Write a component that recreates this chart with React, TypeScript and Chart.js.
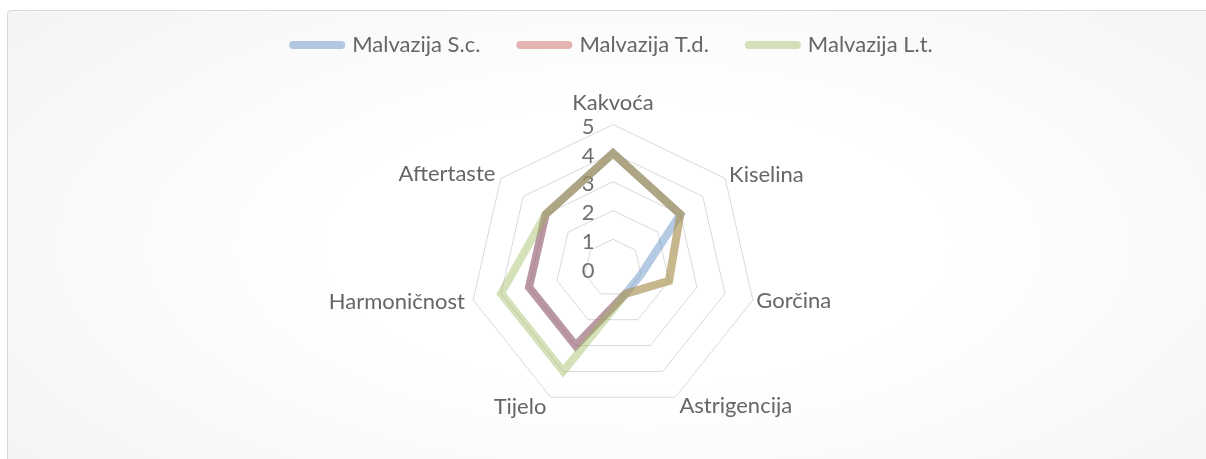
import React, { useEffect, useRef } from 'react';
import { Chart, registerables } from 'chart.js';

Chart.register(...registerables);

// ---- data ----
const categories = ['Kakvoća', 'Kiselina', 'Gorčina', 'Astrigencija', 'Tijelo', 'Harmoničnost', 'Aftertaste'];
const seriesNames = ['Malvazija S.c.', 'Malvazija T.d.', 'Malvazija L.t.'];
const scValues = [4, 3, 1, 1, 3, 3, 3];
const tdValues = [4, 3, 2, 1, 3, 3, 3];
const ltValues = [4, 3, 2, 1, 4, 4, 3];
const tickValues = [0, 1, 2, 3, 4, 5];
const tickLabels = ['0', '1', '2', '3', '4', '5'];

// ---- style ----
const seriesColors = ['rgba(79,129,189,0.42)', 'rgba(192,80,77,0.42)', 'rgba(155,187,89,0.42)'];
const labelPadding = [3.5, 5, 3.5, 9.5, 10, 8.3, 7];
const FONT = 'Lato, "Open Sans", sans-serif';
const FONT_SIZE = 22;

export default function App() {
  const ref = useRef<HTMLCanvasElement | null>(null);

  useEffect(() => {
    const canvas = ref.current;
    if (!canvas) return;
    const seriesData = [scValues, tdValues, ltValues];
    const chart = new Chart(canvas, {
      type: 'radar',
      data: {
        labels: categories,
        datasets: seriesData.map((d, i) => ({
          label: seriesNames[i],
          data: d,
          borderColor: seriesColors[i],
          backgroundColor: 'rgba(0,0,0,0)',
          borderWidth: 8,
          fill: false,
          tension: 0,
          pointRadius: 0,
          pointHoverRadius: 0,
          pointHitRadius: 0,
          pointBorderWidth: 8,
          pointBorderColor: seriesColors[i],
          pointBackgroundColor: seriesColors[i],
          order: seriesData.length - 1 - i,
        })),
      },
      options: {
        responsive: false,
        animation: false,
        events: [],
        layout: { padding: { top: -6, left: 20, right: 0, bottom: 27 } },
        plugins: {
          tooltip: { enabled: false },
          legend: {
            position: 'top',
            labels: {
              usePointStyle: true,
              pointStyle: 'line',
              pointStyleWidth: 48,
              padding: 40,
              color: '#666666',
              font: { family: FONT, size: FONT_SIZE },
              sort: (a: any, b: any) => a.datasetIndex - b.datasetIndex,
              generateLabels: (c: any) =>
                (Chart.defaults.plugins.legend.labels as any)
                  .generateLabels(c)
                  .map((item: any) => ({ ...item, lineCap: 'round', lineWidth: 8 })),
            },
          },
        },
        scales: {
          r: {
            min: -0.001,
            max: 5,
            afterBuildTicks: (scale: any) => {
              scale.ticks = tickValues.map((value) => ({ value }));
            },
            angleLines: { display: false },
            grid: {
              color: (ctx: any) => (ctx.tick && ctx.tick.value <= 0 ? 'rgba(0,0,0,0)' : '#d9d9d9'),
              lineWidth: 1,
            },
            ticks: {
              display: true,
              showLabelBackdrop: false,
              backdropPadding: -FONT_SIZE / 2,
              color: '#707070',
              font: { family: FONT, size: FONT_SIZE, lineHeight: '2.5px' },
              callback: (value: any) => {
                const idx = tickValues.indexOf(Math.round(Number(value)));
                return ['', (idx >= 0 ? tickLabels[idx] : '') + '\u2003\u2003\u2003'];
              },
            },
            pointLabels: {
              color: '#666666',
              padding: (ctx: any) => labelPadding[ctx.index],
              font: (ctx: any) => ({ family: FONT, size: FONT_SIZE, lineHeight: ctx.index === 0 ? '36px' : 0.05 }),
            },
          },
        },
      } as any,
    });
    return () => chart.destroy();
  }, []);

  return (
    <div style={{ position: 'fixed', left: 0, top: 0, width: 1206, height: 459, overflow: 'hidden', background: '#ffffff' }}>
      <div
        style={{
          position: 'absolute',
          left: 7,
          top: 10,
          width: 1260,
          height: 520,
          border: '1px solid #d9d9d9',
          borderRadius: 4,
          background: 'radial-gradient(ellipse at 50% 45%, #ffffff 35%, #f2f2f2 100%)',
        }}
      />
      <canvas ref={ref} width={1206} height={459} style={{ position: 'absolute', left: 0, top: 0, width: 1206, height: 459 }} />
    </div>
  );
}
